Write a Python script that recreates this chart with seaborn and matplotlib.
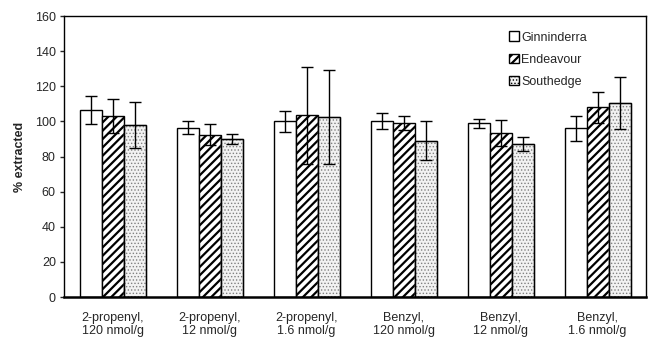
import matplotlib
matplotlib.use("Agg")
import matplotlib.pyplot as plt
from matplotlib.patches import Rectangle
import seaborn as sns
import pandas as pd
import numpy as np

groups = ["2-propenyl,\n120 nmol/g", "2-propenyl,\n12 nmol/g", "2-propenyl,\n1.6 nmol/g",
          "Benzyl,\n120 nmol/g", "Benzyl,\n12 nmol/g", "Benzyl,\n1.6 nmol/g"]
cultivars = ["Ginninderra", "Endeavour", "Southedge"]

ginninderra = [106.5, 96.5, 100, 100, 99, 96]
endeavour = [103, 92.5, 103.5, 99, 93.5, 108]
southedge = [98, 90, 102.5, 89, 87, 110.5]

ginninderra_err = [8, 3.5, 6, 4.5, 2.5, 7]
endeavour_err = [9.5, 6, 27.5, 4, 7.5, 9]
southedge_err = [13, 3, 26.5, 11, 4, 15]

values = {"Ginninderra": ginninderra, "Endeavour": endeavour, "Southedge": southedge}
errors = {"Ginninderra": ginninderra_err, "Endeavour": endeavour_err, "Southedge": southedge_err}

rows = []
for c in cultivars:
    for g, v, e in zip(groups, values[c], errors[c]):
        rows.append({"Group": g, "Cultivar": c, "Value": v, "Err": e})
df = pd.DataFrame(rows)

sns.set_style("white")
plt.rcParams["font.family"] = ["Liberation Sans", "DejaVu Sans"]
plt.rcParams["hatch.linewidth"] = 1.6

fig = plt.figure(figsize=(6.48, 3.41), dpi=100)
ax = fig.add_axes([0.099, 0.129, 0.898, 0.824])

sns.barplot(
    data=df, x="Group", y="Value", hue="Cultivar",
    order=groups, hue_order=cultivars,
    palette=["white", "white", "#f2f2f2"],
    width=0.68, errorbar=None, edgecolor="black", linewidth=1,
    ax=ax
)


def style_bar(bar, kind):
    # 0 = plain white, 1 = diagonal hatch, 2 = fine grey dots
    if kind == 1:
        bar.set_hatch("////")
        bar.set_edgecolor("black")
    elif kind == 2:
        bar.set_hatch(".....")
        bar.set_edgecolor("#808080")
        if hasattr(bar, "set_hatch_linewidth"):
            bar.set_hatch_linewidth(0.6)
    else:
        bar.set_edgecolor("black")


for i, (container, c) in enumerate(zip(ax.containers, cultivars)):
    for bar in container:
        style_bar(bar, i)
        if i == 2:
            # black outline over the grey-dotted bar
            ax.add_patch(Rectangle(bar.get_xy(), bar.get_width(), bar.get_height(),
                                   fill=False, edgecolor="black", linewidth=1,
                                   zorder=bar.get_zorder()))
    xs = [b.get_x() + b.get_width() / 2 for b in container]
    ys = [b.get_height() for b in container]
    ax.errorbar(xs, ys, yerr=errors[c], fmt="none", ecolor="black",
                elinewidth=1, capsize=4, capthick=1, zorder=5)

ax.set_ylim(0, 160)
ax.set_yticks(np.arange(0, 161, 20))
ax.set_xlim(-0.5, len(groups) - 0.5)
ax.set_xlabel("")
ax.set_ylabel("% extracted", fontsize=9, fontweight="bold", labelpad=6)
ax.tick_params(axis="y", left=True, length=3, width=1, labelsize=9, pad=3)
ax.tick_params(axis="x", bottom=False, labelsize=9, pad=7)
for spine in ax.spines.values():
    spine.set_color("black")
    spine.set_linewidth(1)
ax.spines["bottom"].set_linewidth(1.8)

leg = ax.legend(loc="upper left", bbox_to_anchor=(0.745, 0.985), frameon=False,
                fontsize=9, handlelength=0.8, handleheight=0.8,
                handletextpad=0.2, labelspacing=0.8)
for i, patch in enumerate(leg.get_patches()):
    style_bar(patch, i)
    patch.set_linewidth(1)
    if i == 2:
        patch.set_edgecolor("black")

fig.savefig("out.png", dpi=100)
